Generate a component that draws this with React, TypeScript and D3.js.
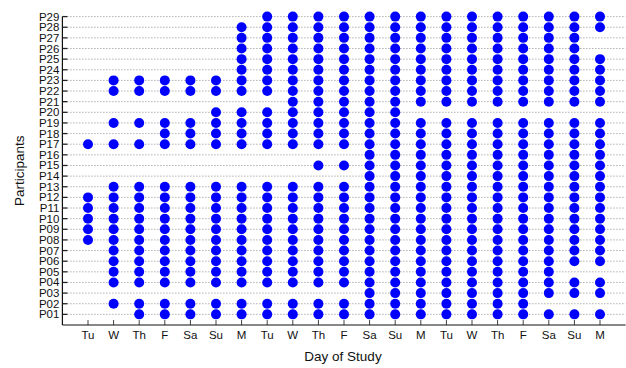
import * as d3 from "d3";

// Day of study tick labels (three weeks, Tuesday to Monday)
const days = ["Tu", "W", "Th", "F", "Sa", "Su", "M", "Tu", "W", "Th", "F", "Sa", "Su", "M", "Tu", "W", "Th", "F", "Sa", "Su", "M"];

// Participants, bottom to top
const participants = d3.range(1, 30).map((i) => "P" + String(i).padStart(2, "0"));

// Attendance per participant (P01..P29), one char per day, "o" = recorded, weeks split by "|"
const attendance = [
    "..ooooo|ooooooo|ooooooo", // P01
    ".oooooo|ooooooo|oooo...", // P02
    ".......|....ooo|ooooooo", // P03
    ".oooooo|ooooooo|ooooooo", // P04
    ".oooooo|ooooooo|ooooo..", // P05
    ".oooooo|ooooooo|ooooooo", // P06
    ".oooooo|ooooooo|ooooooo", // P07
    "ooooooo|ooooooo|ooooooo", // P08
    "ooooooo|ooooooo|ooooooo", // P09
    "ooooooo|ooooooo|ooooooo", // P10
    "ooooooo|ooooooo|ooooooo", // P11
    "ooooooo|ooooooo|ooooooo", // P12
    ".oooooo|ooooooo|ooooooo", // P13
    ".......|....ooo|ooooooo", // P14
    ".......|..ooooo|ooooooo", // P15
    ".......|....ooo|ooooooo", // P16
    "ooooooo|ooooooo|ooooooo", // P17
    "...oooo|ooooooo|ooooooo", // P18
    ".oooooo|ooooooo|ooooooo", // P19
    ".....oo|oooooo.|.......", // P20
    ".......|.oooooo|ooooooo", // P21
    ".oooooo|ooooooo|ooooooo", // P22
    ".oooooo|ooooooo|ooooooo", // P23
    "......o|ooooooo|ooooooo", // P24
    "......o|ooooooo|ooooooo", // P25
    "......o|ooooooo|oooooo.", // P26
    "......o|ooooooo|oooooo.", // P27
    "......o|ooooooo|ooooooo", // P28
    ".......|ooooooo|ooooooo", // P29
];

export default function App() {
    const width = 626;
    const height = 368;
    const left = 62.4;
    const right = 625.6;
    const top = 16.6;
    const bottom = 325;

    const x = d3.scaleLinear([-1, days.length], [left, right]);
    const y = d3.scaleLinear([0, participants.length], [bottom, top]);

    const points = attendance.flatMap((row, p) =>
        row.replace(/\|/g, "").split("").map((c, d) => ({ p: p + 1, d, on: c === "o" }))
    ).filter((e) => e.on);

    const font = "'Liberation Sans', Arial, Helvetica, sans-serif";

    return (
        <svg
            width={width}
            height={height}
            style={{ position: "absolute", left: 0, top: 0, background: "#fff" }}
            fontFamily={font}
        >
            {/* dotted row lines + y ticks */}
            {participants.map((name, i) => (
                <g key={name}>
                    <line
                        x1={left + 5}
                        x2={right}
                        y1={y(i + 1)}
                        y2={y(i + 1)}
                        stroke="#8a8a8a"
                        strokeWidth={1}
                        strokeDasharray="1,2"
                    />
                    <line x1={left} x2={left + 5} y1={y(i + 1)} y2={y(i + 1)} stroke="#222" strokeWidth={1.3} />
                    <text x={left - 3} y={y(i + 1) + 4} textAnchor="end" fontSize={11.5} fill="#111">
                        {name}
                    </text>
                </g>
            ))}

            {/* x ticks */}
            {days.map((day, i) => (
                <g key={i}>
                    <line x1={x(i)} x2={x(i)} y1={bottom} y2={bottom - 5} stroke="#444" strokeWidth={1} />
                    <text x={x(i)} y={bottom + 14} textAnchor="middle" fontSize={11.5} fill="#111">
                        {day}
                    </text>
                </g>
            ))}

            {/* axes */}
            <line x1={left} x2={left} y1={top} y2={bottom} stroke="#111" strokeWidth={1.2} />
            <line x1={left} x2={right} y1={bottom} y2={bottom} stroke="#111" strokeWidth={1.2} />

            {/* dots */}
            {points.map((e, i) => (
                <circle key={i} cx={x(e.d)} cy={y(e.p)} r={5} fill="#0000ff" />
            ))}

            <text x={343} y={361} textAnchor="middle" fontSize={13.5} fill="#111">
                Day of Study
            </text>
            <text
                transform={`translate(24,${(top + bottom) / 2}) rotate(-90)`}
                textAnchor="middle"
                fontSize={13.5}
                fill="#111"
            >
                Participants
            </text>
        </svg>
    );
}
